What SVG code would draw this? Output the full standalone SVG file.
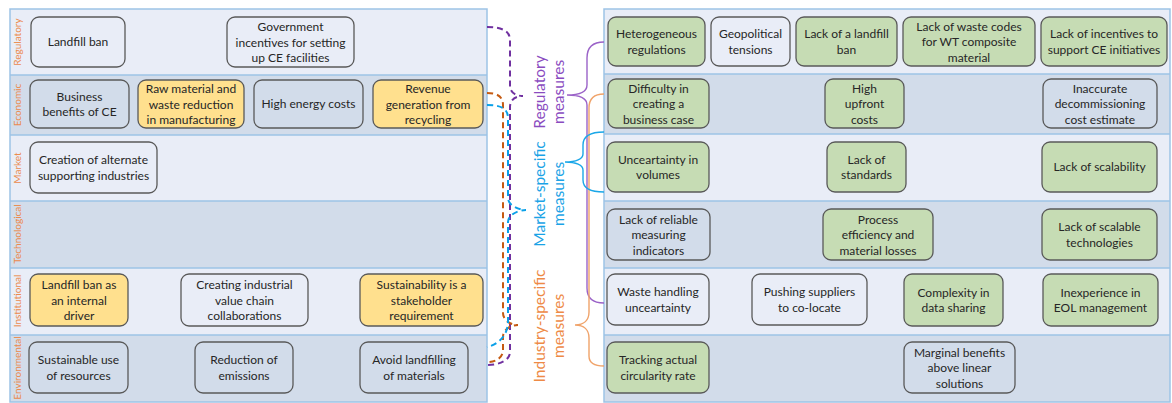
<svg xmlns="http://www.w3.org/2000/svg" width="1172" height="403" viewBox="0 0 1172 403">
  <style>
    .rowL { fill: #e9edf7; }
    .rowD { fill: #d2dcea; }
    .grid { fill: none; stroke: #9dc3e6; stroke-width: 1.5; }
    .node rect { stroke: #595959; stroke-width: 1.3; }
    .plain rect { fill: none; }
    .yellow rect { fill: #ffe08e; }
    .green rect { fill: #c6dcb4; }
    .node text { font-family: Lato, "Liberation Sans", sans-serif; font-size: 12px; fill: #262626; text-anchor: middle; }
    .rowlab { font-family: Lato, "Liberation Sans", sans-serif; font-size: 10px; fill: #ec8a4c; text-anchor: middle; }
    .grp { font-family: Lato, "Liberation Sans", sans-serif; font-size: 15.5px; text-anchor: middle; }
    .dash { fill: none; stroke-width: 2; stroke-dasharray: 6 4; }
    .brace { fill: none; stroke-width: 1.4; }
  </style>

  <!-- left panel: drivers by category -->
  <g id="left-panel">
    <rect class="rowL" x="10" y="9" width="477" height="66"/>
    <rect class="rowD" x="10" y="75" width="477" height="60"/>
    <rect class="rowL" x="10" y="135" width="477" height="66"/>
    <rect class="rowD" x="10" y="201" width="477" height="67"/>
    <rect class="rowL" x="10" y="268" width="477" height="67"/>
    <rect class="rowD" x="10" y="335" width="477" height="67"/>
    <path class="grid" d="M10,9 H487 V402 H10 Z M10,75 H487 M10,135 H487 M10,201 H487 M10,268 H487 M10,335 H487"/>
    <text class="rowlab" transform="translate(21,42) rotate(-90)">Regulatory</text>
    <text class="rowlab" transform="translate(21,105) rotate(-90)">Economic</text>
    <text class="rowlab" transform="translate(21,168) rotate(-90)">Market</text>
    <text class="rowlab" transform="translate(21,234) rotate(-90)">Technological</text>
    <text class="rowlab" transform="translate(21,301) rotate(-90)">Institutional</text>
    <text class="rowlab" transform="translate(21,368) rotate(-90)">Environmental</text>
  </g>

  <!-- right panel: barriers -->
  <g id="right-panel">
    <rect class="rowL" x="604" y="9" width="566" height="65"/>
    <rect class="rowD" x="604" y="74" width="566" height="60"/>
    <rect class="rowL" x="604" y="134" width="566" height="67"/>
    <rect class="rowD" x="604" y="201" width="566" height="67"/>
    <rect class="rowL" x="604" y="268" width="566" height="67"/>
    <rect class="rowD" x="604" y="335" width="566" height="67"/>
    <path class="grid" d="M604,9 H1170 V402 H604 Z M604,74 H1170 M604,134 H1170 M604,201 H1170 M604,268 H1170 M604,335 H1170"/>
  </g>

  <!-- left nodes -->
  <g id="n-landfill-ban" class="node plain"><rect x="31" y="17" width="94" height="50" rx="8"/><text x="78" y="46">Landfill ban</text></g>
  <g id="n-gov-incentives" class="node plain"><rect x="227" y="17" width="127" height="50" rx="8"/><text x="290.5" y="31">Government<tspan x="290.5" dy="15.5">incentives for setting</tspan><tspan x="290.5" dy="15.5">up CE facilities</tspan></text></g>
  <g id="n-business-benefits" class="node plain"><rect x="30" y="80" width="99" height="48" rx="8"/><text x="79.5" y="100.5">Business<tspan x="79.5" dy="15.5">benefits of CE</tspan></text></g>
  <g id="n-raw-material" class="node yellow"><rect x="138" y="80" width="106" height="48" rx="8"/><text x="191" y="93">Raw material and<tspan x="191" dy="15.5">waste reduction</tspan><tspan x="191" dy="15.5">in manufacturing</tspan></text></g>
  <g id="n-energy-costs" class="node plain"><rect x="254" y="80" width="109" height="48" rx="8"/><text x="308.5" y="108">High energy costs</text></g>
  <g id="n-revenue" class="node yellow"><rect x="373" y="80" width="110" height="48" rx="8"/><text x="428" y="93">Revenue<tspan x="428" dy="15.5">generation from</tspan><tspan x="428" dy="15.5">recycling</tspan></text></g>
  <g id="n-alt-industries" class="node plain"><rect x="30" y="142" width="127" height="51" rx="8"/><text x="93.5" y="164">Creation of alternate<tspan x="93.5" dy="15.5">supporting industries</tspan></text></g>
  <g id="n-internal-driver" class="node yellow"><rect x="30" y="274" width="98" height="52" rx="8"/><text x="79" y="289">Landfill ban as<tspan x="79" dy="15.5">an internal</tspan><tspan x="79" dy="15.5">driver</tspan></text></g>
  <g id="n-value-chain" class="node plain"><rect x="181" y="274" width="127" height="52" rx="8"/><text x="244.5" y="289">Creating industrial<tspan x="244.5" dy="15.5">value chain</tspan><tspan x="244.5" dy="15.5">collaborations</tspan></text></g>
  <g id="n-stakeholder" class="node yellow"><rect x="360" y="274" width="123" height="52" rx="8"/><text x="421.5" y="289">Sustainability is a<tspan x="421.5" dy="15.5">stakeholder</tspan><tspan x="421.5" dy="15.5">requirement</tspan></text></g>
  <g id="n-resources" class="node plain"><rect x="29" y="342" width="99" height="51" rx="8"/><text x="78.5" y="364">Sustainable use<tspan x="78.5" dy="15.5">of resources</tspan></text></g>
  <g id="n-emissions" class="node plain"><rect x="195" y="342" width="98" height="51" rx="8"/><text x="244" y="364">Reduction of<tspan x="244" dy="15.5">emissions</tspan></text></g>
  <g id="n-avoid-landfill" class="node plain"><rect x="360" y="342" width="108" height="51" rx="8"/><text x="414" y="364">Avoid landfilling<tspan x="414" dy="15.5">of materials</tspan></text></g>

  <!-- right nodes -->
  <g id="n-heterogeneous" class="node green"><rect x="608" y="17" width="97" height="49" rx="8"/><text x="656.5" y="38">Heterogeneous<tspan x="656.5" dy="15.5">regulations</tspan></text></g>
  <g id="n-geopolitical" class="node plain"><rect x="711" y="17" width="79" height="49" rx="8"/><text x="750.5" y="38">Geopolitical<tspan x="750.5" dy="15.5">tensions</tspan></text></g>
  <g id="n-no-landfill-ban" class="node green"><rect x="796" y="17" width="101" height="49" rx="8"/><text x="846.5" y="38">Lack of a landfill<tspan x="846.5" dy="15.5">ban</tspan></text></g>
  <g id="n-waste-codes" class="node green"><rect x="903" y="17" width="132" height="49" rx="8"/><text x="969" y="30.5">Lack of waste codes<tspan x="969" dy="15.5">for WT composite</tspan><tspan x="969" dy="15.5">material</tspan></text></g>
  <g id="n-no-incentives" class="node green"><rect x="1041" y="17" width="126" height="49" rx="8"/><text x="1104" y="38">Lack of incentives to<tspan x="1104" dy="15.5">support CE initiatives</tspan></text></g>
  <g id="n-business-case" class="node green"><rect x="608" y="79" width="101" height="49" rx="8"/><text x="658.5" y="92.5">Difficulty in<tspan x="658.5" dy="15.5">creating a</tspan><tspan x="658.5" dy="15.5">business case</tspan></text></g>
  <g id="n-upfront-costs" class="node green"><rect x="825" y="79" width="79" height="49" rx="8"/><text x="864.5" y="92.5">High<tspan x="864.5" dy="15.5">upfront</tspan><tspan x="864.5" dy="15.5">costs</tspan></text></g>
  <g id="n-decommissioning" class="node plain"><rect x="1043" y="79" width="114" height="49" rx="8"/><text x="1100" y="92.5">Inaccurate<tspan x="1100" dy="15.5">decommissioning</tspan><tspan x="1100" dy="15.5">cost estimate</tspan></text></g>
  <g id="n-volumes" class="node green"><rect x="607" y="142" width="102" height="50" rx="8"/><text x="658" y="163.5">Unceartainty in<tspan x="658" dy="15.5">volumes</tspan></text></g>
  <g id="n-standards" class="node green"><rect x="827" y="142" width="79" height="50" rx="8"/><text x="866.5" y="163.5">Lack of<tspan x="866.5" dy="15.5">standards</tspan></text></g>
  <g id="n-scalability" class="node green"><rect x="1042" y="142" width="115" height="50" rx="8"/><text x="1099.5" y="171">Lack of scalability</text></g>
  <g id="n-indicators" class="node plain"><rect x="607" y="209" width="103" height="51" rx="8"/><text x="658.5" y="223.5">Lack of reliable<tspan x="658.5" dy="15.5">measuring</tspan><tspan x="658.5" dy="15.5">indicators</tspan></text></g>
  <g id="n-process" class="node green"><rect x="823" y="209" width="110" height="51" rx="8"/><text x="878" y="223.5">Process<tspan x="878" dy="15.5">efficiency and</tspan><tspan x="878" dy="15.5">material losses</tspan></text></g>
  <g id="n-scalable-tech" class="node green"><rect x="1042" y="209" width="115" height="51" rx="8"/><text x="1099.5" y="231">Lack of scalable<tspan x="1099.5" dy="15.5">technologies</tspan></text></g>
  <g id="n-waste-handling" class="node plain"><rect x="607" y="274" width="102" height="51" rx="8"/><text x="658" y="296">Waste handling<tspan x="658" dy="15.5">unceartainty</tspan></text></g>
  <g id="n-co-locate" class="node plain"><rect x="752" y="274" width="115" height="51" rx="8"/><text x="809.5" y="296">Pushing suppliers<tspan x="809.5" dy="15.5">to co-locate</tspan></text></g>
  <g id="n-data-sharing" class="node green"><rect x="904" y="274" width="99" height="52" rx="8"/><text x="953.5" y="296.5">Complexity in<tspan x="953.5" dy="15.5">data sharing</tspan></text></g>
  <g id="n-eol" class="node green"><rect x="1043" y="274" width="115" height="52" rx="8"/><text x="1100.5" y="296.5">Inexperience in<tspan x="1100.5" dy="15.5">EOL management</tspan></text></g>
  <g id="n-circularity" class="node green"><rect x="607" y="342" width="102" height="51" rx="8"/><text x="658" y="364">Tracking actual<tspan x="658" dy="15.5">circularity rate</tspan></text></g>
  <g id="n-marginal" class="node plain"><rect x="904" y="342" width="111" height="51" rx="8"/><text x="959.5" y="356.5">Marginal benefits<tspan x="959.5" dy="15.5">above linear</tspan><tspan x="959.5" dy="15.5">solutions</tspan></text></g>

  <!-- connectors: dashed braces from the drivers, solid braces to the barriers -->
  <g id="connectors">
    <path class="dash" stroke="#7030a0" d="M487,27 C500,27 510,30 510,40 L510,86 C510,92 515,96 523,96 C515,96 510,100 510,107 L510,352 C510,360 500,365 487,365"/>
    <path class="dash" stroke="#c55a11" d="M487,93 C498,93 503,97 503,105 L503,313 C503,320 510,325 518,325 C510,325 503,330 503,337 L503,350 C503,357 497,362 487,362"/>
    <path class="dash" stroke="#0aa0e8" d="M487,105 C500,105 508,108 508,118 L508,198 C508,205 518,210 526,210 C518,210 508,215 508,222 L508,322 C508,335 498,345 487,347"/>

    <path class="brace" stroke="#9b63c8" d="M604,42 C592,42 587,48 587,58 L587,85 C587,92 580,95 567,95 C580,95 587,98 587,105 L587,288 C587,298 592,303 604,303"/>
    <path class="brace" stroke="#f0a36a" d="M604,94 C594,94 589,99 589,108 L589,312 C589,320 584,325 575,325 C584,325 589,330 589,338 L589,356 C589,363 594,366 604,366"/>
    <path class="brace" stroke="#1aa7e8" d="M604,132 C590,132 583,136 583,145 L583,154 C583,159 576,162 565,162 C576,162 583,165 583,170 L583,180 C583,188 590,192 604,192"/>
  </g>

  <!-- group labels -->
  <g id="label-regulatory" class="grp" fill="#8a4bbf">
    <text transform="translate(545,92) rotate(-90)">Regulatory</text>
    <text transform="translate(564,92) rotate(-90)">measures</text>
  </g>
  <g id="label-market" class="grp" fill="#1aa3e6">
    <text transform="translate(545,194) rotate(-90)">Market-specific</text>
    <text transform="translate(564,194) rotate(-90)">measures</text>
  </g>
  <g id="label-industry" class="grp" fill="#ee8a46">
    <text transform="translate(545,326) rotate(-90)">Industry-specific</text>
    <text transform="translate(564,326) rotate(-90)">measures</text>
  </g>
</svg>
